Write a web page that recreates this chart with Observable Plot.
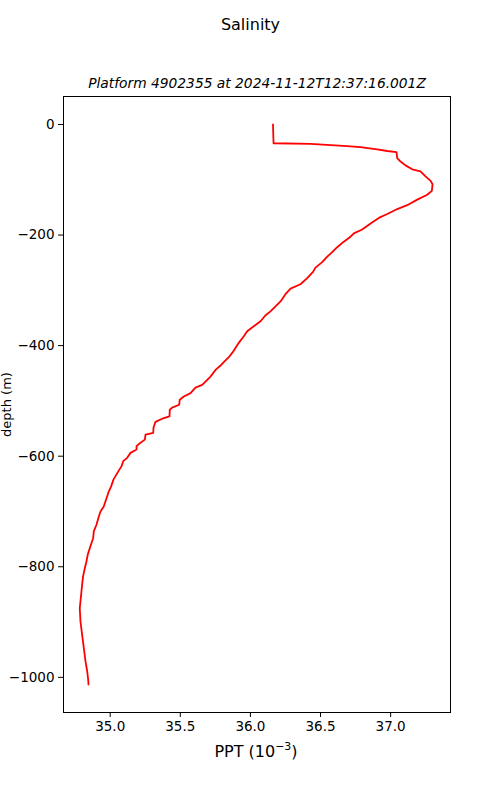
<!DOCTYPE html>
<html>
<head>
<meta charset="utf-8">
<script src="https://cdn.jsdelivr.net/npm/d3@7"></script>
<script src="https://cdn.jsdelivr.net/npm/@observablehq/plot@0.6"></script>
<style>
  html, body { margin: 0; padding: 0; background: #fff; }
  svg { font-family: "DejaVu Sans", sans-serif; }
</style>
</head>
<body>
<div id="chart"></div>
<script>
const titleText = "Salinity";
const subtitleText = "Platform 4902355 at 2024-11-12T12:37:16.001Z";
const xLabel = "PPT (10";
const xLabelSup = "\u22123";
const yLabel = "depth (m)";

const xTicks = [35.0, 35.5, 36.0, 36.5, 37.0];
const yTicks = [0, -200, -400, -600, -800, -1000];

// salinity (PPT) readings
const salinity = [
  36.161, 36.165, 36.429, 36.690, 36.785, 36.904, 36.976, 37.042, 37.047, 37.066,
  37.106, 37.154, 37.213, 37.249, 37.285, 37.299, 37.294, 37.261, 37.190, 37.118,
  37.047, 36.976, 36.916, 36.857, 36.797, 36.738, 36.714, 36.666, 36.619, 36.583,
  36.548, 36.512, 36.464, 36.448, 36.405, 36.357, 36.286, 36.250, 36.215, 36.179,
  36.143, 36.108, 36.072, 36.024, 35.977, 35.953, 35.917, 35.882, 35.846, 35.810,
  35.787, 35.751, 35.715, 35.680, 35.656, 35.608, 35.573, 35.525, 35.496, 35.492,
  35.442, 35.425, 35.423, 35.382, 35.323, 35.309, 35.307, 35.252, 35.247, 35.204,
  35.188, 35.188, 35.145, 35.121, 35.093, 35.081, 35.059, 35.024, 35.006, 34.990,
  34.966, 34.954, 34.931, 34.919, 34.902, 34.883, 34.879, 34.859, 34.840, 34.831,
  34.817, 34.807, 34.800, 34.793, 34.783, 34.788, 34.800, 34.812, 34.824, 34.836,
  34.843, 34.845
];
// depth (m) of each reading
const depth = [
  0, -34, -35, -39, -41, -45, -48, -50, -61, -66,
  -74, -81, -85, -94, -102, -108, -120, -127, -136, -146,
  -153, -162, -169, -179, -190, -197, -203, -212, -222, -231,
  -239, -249, -259, -266, -278, -289, -297, -307, -320, -329,
  -338, -345, -356, -365, -374, -383, -395, -409, -421, -430,
  -436, -444, -456, -465, -471, -476, -486, -492, -498, -507,
  -512, -516, -528, -531, -538, -548, -558, -561, -570, -578,
  -582, -588, -594, -603, -609, -618, -627, -642, -655, -664,
  -682, -691, -700, -709, -724, -736, -748, -763, -778, -790,
  -805, -817, -832, -850, -875, -899, -923, -947, -971, -989,
  -1004, -1013
];

const data = salinity.map((s, i) => ({sal: s, depth: depth[i]}));

const chart = Plot.plot({
  width: 500,
  height: 800,
  marginLeft: 63,
  marginRight: 50,
  marginTop: 96,
  marginBottom: 88,
  style: {fontFamily: "DejaVu Sans, sans-serif", fontSize: "13px", color: "#000", background: "#fff"},
  x: {domain: [34.667, 37.427], ticks: xTicks, tickFormat: d3.format(".1f"), label: null},
  y: {domain: [-1063.6, 50.6], ticks: yTicks, tickFormat: d3.format("d"), label: null},
  marks: [
    Plot.frame({stroke: "#000", strokeWidth: 1}),
    Plot.axisX({ticks: xTicks, tickFormat: d3.format(".1f"), tickSize: 5, tickPadding: 4, label: null, fontSize: 13.5}),
    Plot.axisY({ticks: yTicks, tickFormat: d3.format("d"), tickSize: 5, tickPadding: 4, label: null, fontSize: 13.5}),
    Plot.line(data, {x: "sal", y: "depth", stroke: "#ff0000", strokeWidth: 1.8}),
    Plot.text([titleText], {frameAnchor: "top", lineAnchor: "middle", dy: -72, dx: -6.5, text: d => d, fontSize: 16, fill: "#000"}),
    Plot.text([subtitleText], {frameAnchor: "top", lineAnchor: "middle", dy: -13, text: d => d, fontSize: 13.8, fontStyle: "italic", fill: "#000"}),
    Plot.text([yLabel], {frameAnchor: "left", textAnchor: "middle", lineAnchor: "middle", dx: -57, rotate: -90, text: d => d, fontSize: 13, fill: "#000"})
  ]
});

const svg = d3.select(chart);
const xl = svg.append("text")
  .attr("x", 256)
  .attr("y", 757)
  .attr("text-anchor", "middle")
  .attr("font-size", 16)
  .attr("fill", "#000");
xl.append("tspan").text(xLabel);
xl.append("tspan").attr("font-size", 11).attr("dy", -7).text(xLabelSup);
xl.append("tspan").attr("dy", 7).text(")");

document.getElementById("chart").appendChild(chart);
</script>
</body>
</html>
